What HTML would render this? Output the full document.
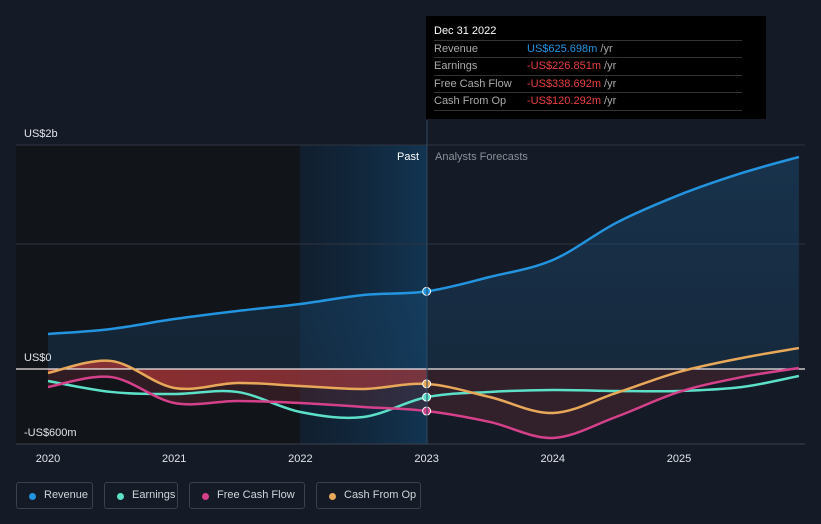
<!DOCTYPE html>
<html><head><meta charset="utf-8"><style>
body{margin:0;background:#151b26;width:821px;height:524px;overflow:hidden;font-family:"Liberation Sans",sans-serif;}
svg{position:absolute;left:0;top:0}
.legend{position:absolute;top:482px;height:27px;border:1px solid #3a414d;border-radius:3px;color:#d0d4da;font-size:11px;line-height:25px;box-sizing:border-box;padding-left:27px;white-space:nowrap}
.legend i{position:absolute;left:12px;top:10px;width:7px;height:7px;border-radius:50%}
.tip{position:absolute;left:426px;top:16px;width:340px;height:103px;background:#000;color:#aaa;font-size:11px}
.tip .row{position:absolute;left:8px;width:308px;border-top:1px solid #333;height:17px;line-height:17px;white-space:nowrap}
.tip .v{position:absolute;left:93px}
</style></head><body>
<svg width="821" height="524">
<defs>
<linearGradient id="pastG" x1="0" x2="1"><stop offset="0" stop-color="#0e2134" stop-opacity="0.6"/><stop offset="1" stop-color="#123552"/></linearGradient>
<linearGradient id="revG" x1="0" y1="0" x2="0" y2="1"><stop offset="0" stop-color="#1a4a72" stop-opacity="0.5"/><stop offset="1" stop-color="#1a4a72" stop-opacity="0.3"/></linearGradient>
<linearGradient id="redG" x1="0" x2="1"><stop offset="0" stop-color="#b03535" stop-opacity="0.75"/><stop offset="0.7" stop-color="#a03a40" stop-opacity="0.55"/><stop offset="1" stop-color="#a04050" stop-opacity="0.5"/></linearGradient>
</defs>
<rect x="16" y="145" width="284" height="299" fill="#111419"/>
<rect x="300" y="145" width="127" height="299" fill="url(#pastG)"/>
<g id="g"></g>
<line x1="427" y1="120" x2="427" y2="444" stroke="#2e4a63" stroke-width="1"/>
<text x="419" y="160" fill="#fff" font-size="11" text-anchor="end">Past</text>
<text x="435" y="160" fill="#8a9099" font-size="11">Analysts Forecasts</text>
<text x="24" y="137" fill="#e0e3e8" font-size="11">US$2b</text>
<text x="24" y="361" fill="#e0e3e8" font-size="11">US$0</text>
<text x="24" y="436" fill="#e0e3e8" font-size="11">-US$600m</text>
</svg>
<div class="tip">
<div style="position:absolute;left:8px;top:9px;color:#fff;font-size:11px">Dec 31 2022</div>
<div class="row" style="top:24px">Revenue<span class="v"><span style="color:#2394df">US$625.698m</span> /yr</span></div>
<div class="row" style="top:41px">Earnings<span class="v"><span style="color:#e84040">-US$226.851m</span> /yr</span></div>
<div class="row" style="top:59px">Free Cash Flow<span class="v"><span style="color:#e84040">-US$338.692m</span> /yr</span></div>
<div class="row" style="top:76px;border-bottom:1px solid #333">Cash From Op<span class="v"><span style="color:#e84040">-US$120.292m</span> /yr</span></div>
</div>
<div class="legend" style="left:16px;width:77px"><i style="background:#2394df"></i>Revenue</div>
<div class="legend" style="left:104px;width:74px"><i style="background:#5ce0c8"></i>Earnings</div>
<div class="legend" style="left:189px;width:116px"><i style="background:#d4418a"></i>Free Cash Flow</div>
<div class="legend" style="left:316px;width:105px"><i style="background:#e8a85a"></i>Cash From Op</div>
<script>
const years=[2020,2020.5,2021,2021.5,2022,2022.5,2023,2023.5,2024,2024.5,2025,2025.5,2025.95];
const revenue=[282,323,403,468,524,597,626,742,879,1177,1403,1581,1710];
const earnings=[-97,-185,-202,-185,-347,-387,-227,-185,-169,-177,-177,-145,-56];
const fcf=[-145,-65,-274,-258,-274,-306,-339,-427,-556,-387,-185,-65,8];
const cfo=[-32,65,-153,-113,-137,-161,-120,-226,-355,-194,-24,89,169];
const xTicks=[2020,2021,2022,2023,2024,2025];
function X(y){return 48+(y-2020)*126.2;}
function Y(v){return 369-v*0.124;}
const g=document.getElementById('g');const NS='http://www.w3.org/2000/svg';
function mk(t,a){const e=document.createElementNS(NS,t);for(const k in a)e.setAttribute(k,a[k]);g.appendChild(e);return e;}
function path(vals){const p=years.map((y,i)=>[X(y),Y(vals[i])]);let d='M'+p[0][0]+','+p[0][1];
for(let i=0;i<p.length-1;i++){const p0=p[i-1]||p[i],p1=p[i],p2=p[i+1],p3=p[i+2]||p2;
d+=' C'+(p1[0]+(p2[0]-p0[0])/6)+','+(p1[1]+(p2[1]-p0[1])/6)+' '+(p2[0]-(p3[0]-p1[0])/6)+','+(p2[1]-(p3[1]-p1[1])/6)+' '+p2[0]+','+p2[1];}return d;}
[145,244].forEach(y=>{const l=mk('line',{x1:16,x2:805,y1:y,y2:y,stroke:'#2f3540'});

});
const bl=mk('line',{x1:16,x2:805,y1:444,y2:444,stroke:'#3a414d'});


xTicks.forEach(t=>{const e=mk('text',{x:X(t),y:462,fill:'#e0e3e8','font-size':11,'text-anchor':'middle'});e.textContent=t;

});
const x0=X(years[0]),xN=X(years[years.length-1]);
const rf=mk('path',{d:path(revenue)+' L'+xN+','+Y(0)+' L'+x0+','+Y(0)+'Z',fill:'url(#revG)'});


const ff=mk('path',{d:path(fcf)+' L'+xN+','+Y(0)+' L'+x0+','+Y(0)+'Z',fill:'#6a2a35','fill-opacity':0.35});


const cp=mk('clipPath',{id:'pc'});const cr=document.createElementNS(NS,'rect');cr.setAttribute('x',0);cr.setAttribute('y',0);cr.setAttribute('width',427);cr.setAttribute('height',500);cp.appendChild(cr);
const cf=mk('path',{d:path(cfo)+' L'+xN+','+Y(0)+' L'+x0+','+Y(0)+'Z',fill:'url(#redG)','clip-path':'url(#pc)'});


const z=mk('line',{x1:16,x2:805,y1:Y(0),y2:Y(0),stroke:'#f0e8e8','stroke-width':1.2});


[['revenue',revenue,'#2394df'],['earnings',earnings,'#5ce0c8'],['free-cash-flow',fcf,'#d4418a'],['cash-from-op',cfo,'#e8a85a']].forEach(([n,v,c])=>{
const l=mk('path',{d:path(v),fill:'none',stroke:c,'stroke-width':2.5});


const i=years.indexOf(2023);
const dot=mk('circle',{cx:X(2023),cy:Y(v[i]),r:4,fill:c,stroke:'#fff','stroke-width':1});

});
</script>
</body></html>
